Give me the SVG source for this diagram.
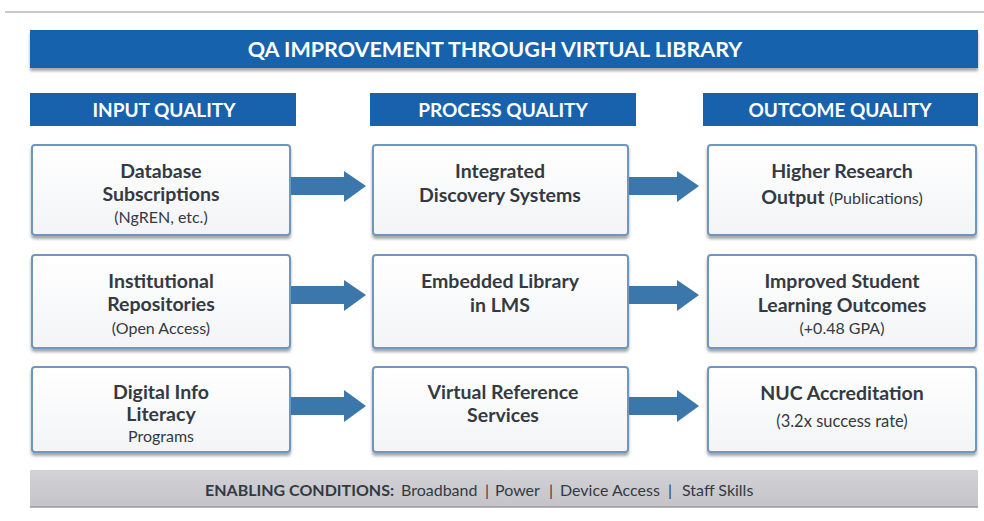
<svg xmlns="http://www.w3.org/2000/svg" width="984" height="521" viewBox="0 0 984 521">
<defs>
<filter id="sh" x="-5%" y="-10%" width="110%" height="125%">
<feGaussianBlur in="SourceAlpha" stdDeviation="1.5"/>
<feOffset dx="0" dy="3" result="b"/>
<feComponentTransfer><feFuncA type="linear" slope="0.35"/></feComponentTransfer>
<feMerge><feMergeNode/><feMergeNode in="SourceGraphic"/></feMerge>
</filter>
<linearGradient id="boxg" x1="0" y1="0" x2="0" y2="1">
<stop offset="0" stop-color="#ffffff"/>
<stop offset="1" stop-color="#f3f4f6"/>
</linearGradient>
<linearGradient id="grayg" x1="0" y1="0" x2="0" y2="1">
<stop offset="0" stop-color="#d3d3d7"/>
<stop offset="1" stop-color="#c3c3c8"/>
</linearGradient>
</defs>
<style>
.bar{fill:#1862ad;}
.hdr{font-family:Lato,"Open Sans",sans-serif;font-weight:700;fill:#ffffff;text-anchor:middle;}
.box{fill:url(#boxg);stroke:#6d97bf;stroke-width:2;filter:url(#sh);}
.t{font-family:Lato,"Open Sans",sans-serif;font-weight:700;font-size:19.5px;fill:#333a42;text-anchor:middle;}
.s{font-family:Lato,"Open Sans",sans-serif;font-weight:400;font-size:16px;fill:#333a42;text-anchor:middle;}
.arr{fill:#3b77ab;}
.foot{font-family:Lato,"Open Sans",sans-serif;font-size:16px;fill:#333a42;}
</style>
<rect x="0" y="0" width="984" height="521" fill="#ffffff"/>
<line x1="5" y1="12" x2="984" y2="12" stroke="#c9c9cc" stroke-width="2"/>
<g id="title">
<rect class="bar" x="30" y="30" width="948" height="38" filter="url(#sh)"/>
<text class="hdr" x="495" y="57" font-size="21.5">QA IMPROVEMENT THROUGH VIRTUAL LIBRARY</text>
</g>
<g id="hdr-input">
<rect class="bar" x="30" y="93" width="266" height="33"/>
<text class="hdr" x="164" y="117" font-size="19">INPUT QUALITY</text>
</g>
<g id="hdr-process">
<rect class="bar" x="370" y="93" width="266" height="33"/>
<text class="hdr" x="503" y="117" font-size="19">PROCESS QUALITY</text>
</g>
<g id="hdr-outcome">
<rect class="bar" x="703" y="93" width="275" height="33"/>
<text class="hdr" x="840" y="117" font-size="19">OUTCOME QUALITY</text>
</g>
<g id="in1">
<rect class="box" x="32" y="145" width="258" height="90" rx="3"/>
<text class="t" x="161" y="178">Database</text>
<text class="t" x="161" y="201">Subscriptions</text>
<text class="s" x="161" y="223">(NgREN, etc.)</text>
</g>
<g id="in2">
<rect class="box" x="32" y="255" width="258" height="93" rx="3"/>
<text class="t" x="161" y="288">Institutional</text>
<text class="t" x="161" y="311">Repositories</text>
<text class="s" x="161" y="334">(Open Access)</text>
</g>
<g id="in3">
<rect class="box" x="32" y="367" width="258" height="85" rx="3"/>
<text class="t" x="161" y="399">Digital Info</text>
<text class="t" x="161" y="421">Literacy</text>
<text class="s" x="161" y="442">Programs</text>
</g>
<g id="pr1">
<rect class="box" x="373" y="145" width="255" height="90" rx="3"/>
<text class="t" x="500" y="178">Integrated</text>
<text class="t" x="500" y="202">Discovery Systems</text>
</g>
<g id="pr2">
<rect class="box" x="373" y="255" width="255" height="93" rx="3"/>
<text class="t" x="500" y="288">Embedded Library</text>
<text class="t" x="500" y="312">in LMS</text>
</g>
<g id="pr3">
<rect class="box" x="373" y="367" width="255" height="85" rx="3"/>
<text class="t" x="503" y="399">Virtual Reference</text>
<text class="t" x="503" y="422">Services</text>
</g>
<g id="out1">
<rect class="box" x="708" y="145" width="268" height="90" rx="3"/>
<text class="t" x="842" y="178">Higher Research</text>
<text class="t" x="842" y="204">Output <tspan style="font-weight:400;font-size:16px">(Publications)</tspan></text>
</g>
<g id="out2">
<rect class="box" x="708" y="255" width="268" height="93" rx="3"/>
<text class="t" x="842" y="288">Improved Student</text>
<text class="t" x="842" y="312">Learning Outcomes</text>
<text class="s" x="842" y="334">(+0.48 GPA)</text>
</g>
<g id="out3">
<rect class="box" x="708" y="367" width="268" height="85" rx="3"/>
<text class="t" x="842" y="400">NUC Accreditation</text>
<text class="s" x="842" y="427" style="font-size:16.5px">(3.2x success rate)</text>
</g>
<g id="connectors">
<polygon class="arr" points="291,177 344,177 344,171 366,186 344,202 344,195 291,195"/>
<polygon class="arr" points="291,286 344,286 344,280 366,295 344,311 344,304 291,304"/>
<polygon class="arr" points="291,397 344,397 344,390 366,406 344,422 344,415 291,415"/>
<polygon class="arr" points="629,177 677,177 677,171 699,186 677,202 677,195 629,195"/>
<polygon class="arr" points="629,286 677,286 677,280 699,295 677,311 677,304 629,304"/>
<polygon class="arr" points="629,397 677,397 677,390 699,406 677,422 677,415 629,415"/>
</g>
<g id="footer">
<rect x="30" y="470" width="948" height="37" fill="url(#grayg)"/>
<line x1="30" y1="507" x2="978" y2="507" stroke="#9a9aa0" stroke-width="1.5"/>
<text class="foot" y="496"><tspan x="205" font-weight="700">ENABLING CONDITIONS:</tspan><tspan x="401">Broadband</tspan><tspan x="485">|</tspan><tspan x="495">Power</tspan><tspan x="549">|</tspan><tspan x="560">Device Access</tspan><tspan x="668">|</tspan><tspan x="682">Staff Skills</tspan></text>
</g>
</svg>
